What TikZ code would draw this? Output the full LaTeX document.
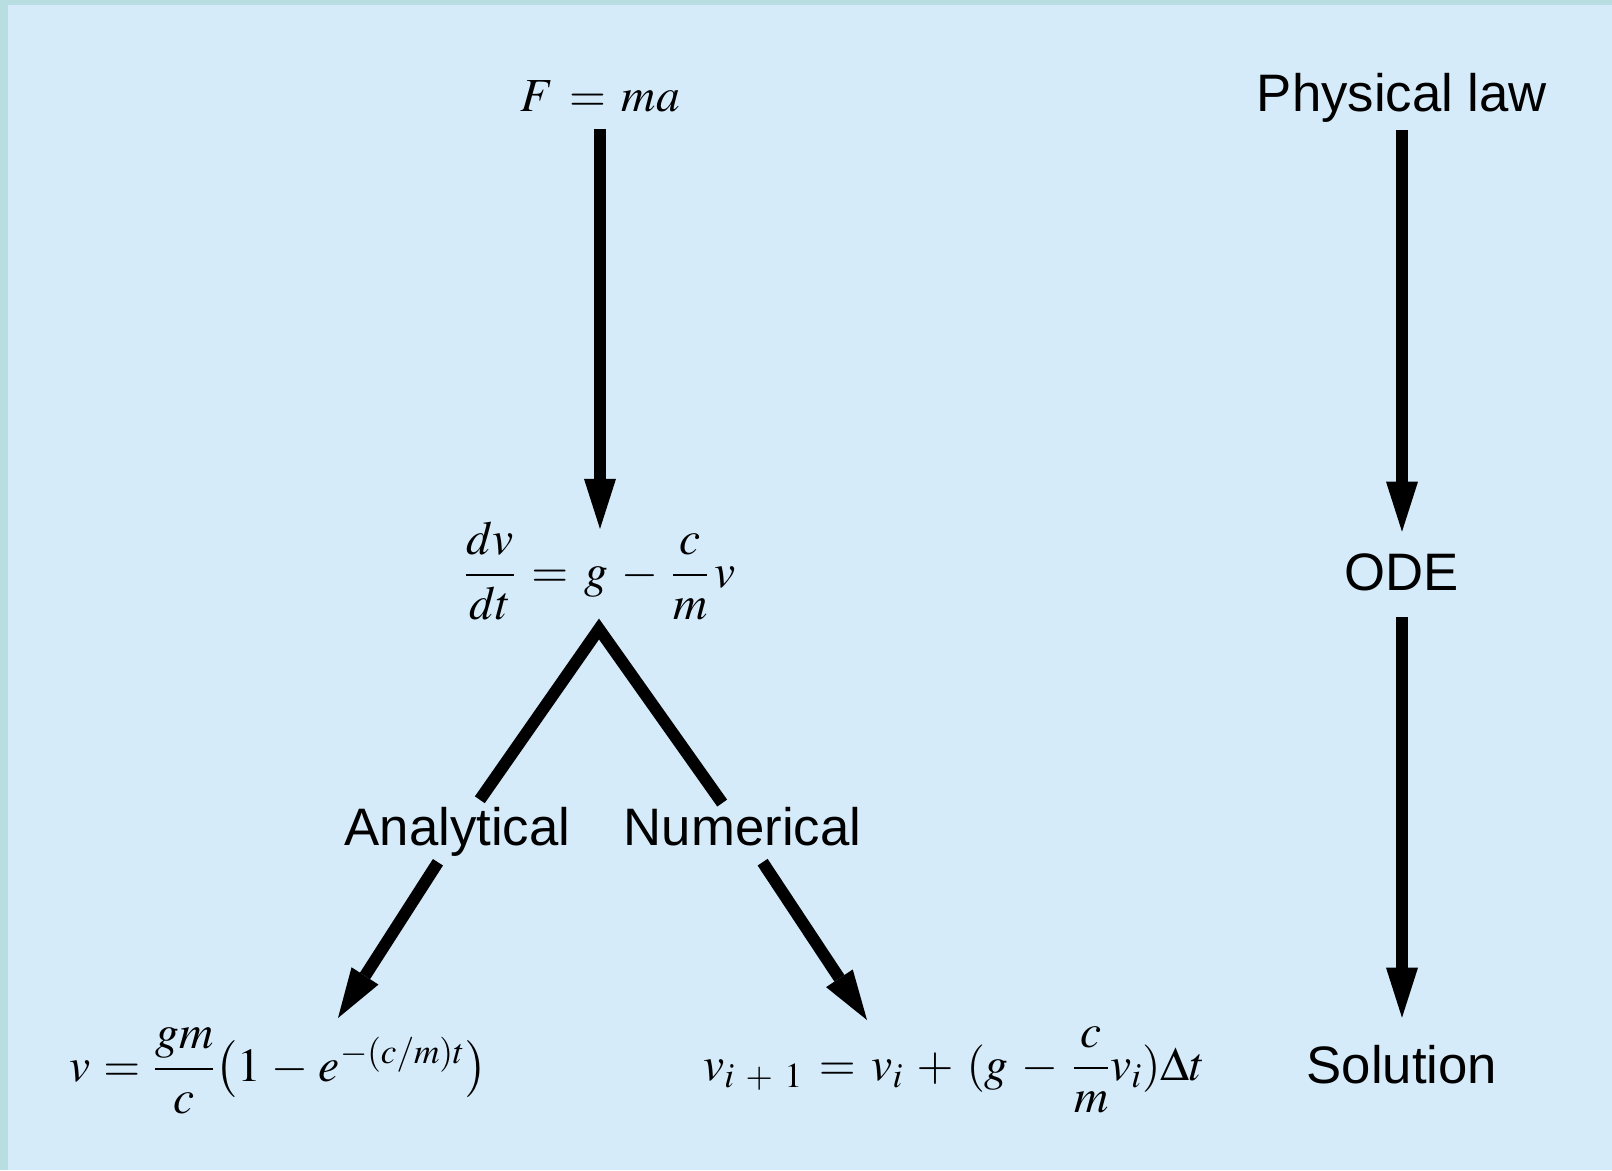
\documentclass[tikz,border=0pt]{standalone}
\usepackage{amsmath}
\usepackage{mathptmx}
\usepackage[no-math]{fontspec}
\newfontfamily\labelfont{Liberation Sans}
\usepackage{tikz}
\usetikzlibrary{arrows.meta, calc}
\definecolor{panelblue}{RGB}{213,235,250}
\definecolor{edgeteal}{RGB}{185,222,226}
\medmuskip=5mu plus 2mu minus 4mu
\thickmuskip=6mu plus 5mu
\tikzset{
  lbl/.style={anchor=base, inner sep=0pt, text height=0.75cm, text depth=0.22cm, font=\labelfont\fontsize{30}{35}\selectfont},
  eqn/.style={anchor=base, inner sep=0pt, font=\fontsize{27}{32}\selectfont},
  arrow/.style={-{Triangle[length=1.0cm, width=0.64cm, line width=0pt]}, line width=0.24cm},
  leg/.style={line width=0.24cm, line join=miter},
}

\begin{document}
\begin{tikzpicture}
  % Panel
  \fill[edgeteal] (0,0) rectangle (32.24,-23.4);
  \fill[panelblue] (0.16,-0.1) rectangle (32.24,-23.4);
  \useasboundingbox (0,0) rectangle (32.24,-23.4);

  % Left column: the falling parachutist
  \node[eqn] (fma) at (12.0,-2.22) {$F = ma$};
  \node[eqn] (dvdt) at (12.0,-11.74) {$\dfrac{dv}{dt} = g - \dfrac{c}{m}\,v$};
  \coordinate (apex) at (11.98,-12.58);

  \node[lbl] (anal) at (9.15,-16.9) {Analytical};
  \node[lbl] (num) at (14.85,-16.9) {Numerical};

  \node[eqn] (exact) at (5.56,-21.62) {$\medmuskip=4mu\thickmuskip=5mu v = \dfrac{gm}{c}\bigl(1 - e^{-(c/m)t}\bigr)$};
  \node[eqn] (euler) at (19.08,-21.6) {$v_{i\;+\;1} = v_i + (g - \dfrac{c}{m}v_i)\Delta t$};
  \coordinate (tipA) at (6.76,-20.36);
  \coordinate (tipN) at (17.34,-20.4);

  \draw[arrow, shorten <=0.34cm, shorten >=-0.14cm] (fma) -- (dvdt);
  \draw[leg, shorten <=0.18cm, shorten >=0.1cm] (anal) -- (apex) -- (num);
  \draw[arrow, shorten <=0.14cm] (anal) -- (tipA);
  \draw[arrow, shorten <=0.14cm] (num) -- (tipN);

  % Right column: general steps
  \node[lbl] (law) at (28.04,-2.22) {Physical law};
  \node[lbl] (ode) at (28.04,-11.8) {ODE};
  \node[lbl] (sol) at (28.04,-21.66) {Solution};

  \draw[arrow, shorten <=0.16cm, shorten >=0.41cm] (law) -- (ode);
  \draw[arrow, shorten <=0.32cm, shorten >=0.55cm] (ode) -- (sol);
\end{tikzpicture}
\end{document}
